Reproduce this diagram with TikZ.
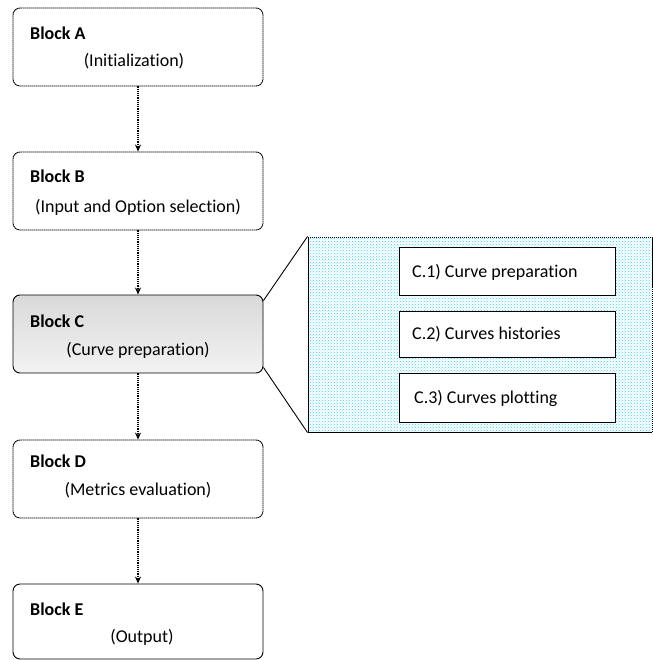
\documentclass[tikz,border=0pt]{standalone}
\usepackage{fontspec}
\setmainfont{Carlito}[Ligatures=NoCommon]
\usetikzlibrary{arrows.meta,patterns}

\begin{document}
\begin{tikzpicture}[x=1pt, y=-1pt,
		block/.style={draw=black, line width=.9pt, rounded corners=7pt, minimum width=250pt, minimum height=78pt, inner sep=0pt},
		dotline/.style={dash pattern=on 1.5pt off .5pt},
		subblock/.style={draw=black, line width=.9pt, fill=white, minimum width=216pt, inner sep=0pt},
		title/.style={anchor=base west, inner sep=0pt, font=\fontsize{18}{20}\selectfont\bfseries},
		subtitle/.style={anchor=base, inner sep=0pt, font=\fontsize{18}{20}\selectfont},
		flow/.style={-{Stealth[length=7pt,width=6pt]}, line width=1.2pt, densely dotted}]
		\useasboundingbox (0,0) rectangle (652,660);
		% main blocks
		\node [block, dotline] (blkA) at (138,47) {};
		\node [block, dotline] (blkB) at (138,191) {};
		\node [block, top color=gray!30, bottom color=gray!10] (blkC) at (138,334) {};
		\node [block, dotline] (blkD) at (138,479) {};
		\node [block, minimum height=75pt] (blkE) at (138,621.5) {};
		\node [title] (tA) at (30,40) {Block A};
		\node [subtitle] (sA) at (134,67) {(Initialization)};
		\node [title] (tB) at (30,183) {Block B};
		\node [subtitle] (sB) at (138,212) {(Input and Option selection)};
		\node [title] (tC) at (30,327) {Block C};
		\node [subtitle] (sC) at (138,355) {(Curve preparation)};
		\node [title] (tD) at (30,467) {Block D};
		\node [subtitle] (sD) at (138,495) {(Metrics evaluation)};
		\node [title] (tE) at (30,615) {Block E};
		\node [subtitle] (sE) at (142,642) {(Output)};
		\draw [flow] (blkA) -- (blkB);
		\draw [flow] (blkB) -- (blkC);
		\draw [flow] (blkC) -- (blkD);
		\draw [flow] (blkD) -- (blkE);
		% detail of block C
		\node [draw=black, line width=1pt, dotline, fill=cyan!10, pattern=crosshatch dots, pattern color=cyan!80!blue!80, minimum width=344pt, minimum height=195pt, inner sep=0pt] (panel) at (480,334.5) {};
		\node [subblock, minimum height=48pt] (c1) at (507,271) {};
		\node [subblock, minimum height=46pt] (c2) at (507,334) {};
		\node [subblock, minimum height=49pt] (c3) at (507,397.5) {};
		\node [title, font=\fontsize{18}{20}\selectfont] (tc1) at (412,277) {C.1) Curve preparation};
		\node [title, font=\fontsize{18}{20}\selectfont] (tc2) at (412,339) {C.2) Curves histories};
		\node [title, font=\fontsize{18}{20}\selectfont] (tc3) at (414,403) {C.3) Curves plotting};
		\draw [line width=.9pt] ([yshift=-6pt]blkC.north east) -- (panel.north west);
		\draw [line width=.9pt] ([yshift=6pt]blkC.south east) -- (panel.south west);
	\end{tikzpicture}
\end{document}
